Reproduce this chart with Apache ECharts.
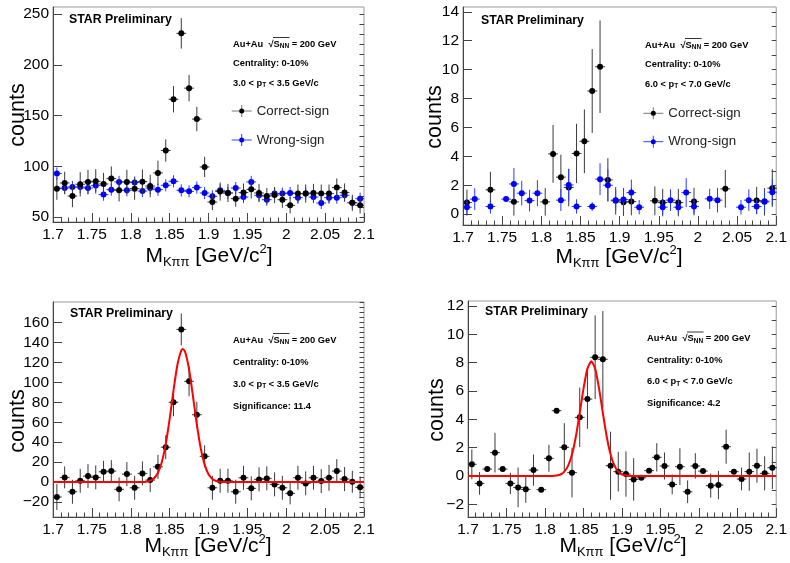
<!DOCTYPE html>
<html><head><meta charset="utf-8">
<script src="https://cdn.jsdelivr.net/npm/echarts@6/dist/echarts.min.js"></script>
<style>html,body{margin:0;padding:0;background:#fff}#c{width:790px;height:563px}</style>
</head><body><div id="c"></div>
<script>
// ---------- data ----------
const binCenters = [1.705,1.715,1.725,1.735,1.745,1.755,1.765,1.775,1.785,1.795,
  1.805,1.815,1.825,1.835,1.845,1.855,1.865,1.875,1.885,1.895,
  1.905,1.915,1.925,1.935,1.945,1.955,1.965,1.975,1.985,1.995,
  2.005,2.015,2.025,2.035,2.045,2.055,2.065,2.075,2.085,2.095];

// Panel 1: 3.0<pT<3.5, correct-sign / wrong-sign
const csVals1 = [77.9,83.5,70.6,82.2,84.5,85.1,82.5,87.8,76.2,84.5,77.9,84.8,80.5,93.4,115.5,166,231,177,146.5,99.3,
  64.7,75,73.6,68,74,77.2,73.6,70.6,71.6,67,61.4,73,73,73.6,73,73,78.9,74,64,61.4];
const csErr1 = [11,11,11,12,12,12,11,12,11,12,11,12,11,12,11,13,15,13,12,10,
  8,9,9,8,9,9,9,8,8,8,8,9,9,9,9,9,9,9,8,8];
const wsVals1 = [92.8,78.5,79.5,79.5,78.5,80.9,72,76.9,84.5,76.2,83.9,75.5,78.5,76.9,81.2,85.1,76.2,75.2,78.9,73.6,
  70.3,76.2,73.6,78.5,69.6,84.5,71.3,67,73,73,73.6,69,73,69.6,63.7,69,69,71.3,64,68];
const wsErr1 = [6,6,6,6,6,6,6,6,6,6,6,6,6,6,6,6,6,6,6,6,
  6,6,6,6,6,6,6,6,6,6,6,6,6,6,6,6,6,6,6,6];

// Panel 2: 6.0<pT<7.0, correct-sign / wrong-sign (null = empty bin)
const csVals2 = [0.8,null,null,1.68,null,null,0.85,null,null,null,0.85,4.17,2.56,1.84,4.2,5.04,8.52,10.2,2.37,0.92,
  0.83,0.87,null,null,0.92,0.8,null,0.8,null,0.87,null,null,null,1.75,null,null,null,0.94,0.85,1.8];
const csErr2 = [0.9,null,null,1.25,null,null,0.95,null,null,null,0.95,2.0,1.55,1.3,2.05,2.2,2.9,3.2,1.5,0.95,
  0.95,0.95,null,null,1.0,0.95,null,0.95,null,0.95,null,null,null,1.3,null,null,null,0.95,0.95,1.3];
const wsVals2 = [0.48,1.04,null,0.53,null,1.04,2.09,1.45,0.94,1.45,null,null,0.97,2.02,0.53,null,0.53,2.42,2.0,0.97,
  1.01,1.49,0.48,null,null,0.48,0.97,0.48,1.49,0.53,null,1.06,0.97,null,null,0.48,0.97,0.53,0.9,1.52];
const wsErr2 = [0.5,0.75,null,0.5,null,0.15,1.1,0.85,0.75,0.9,null,null,0.75,1.1,0.5,null,0.3,1.1,1.1,0.7,
  0.8,0.9,0.5,null,null,0.5,0.75,0.5,1.0,0.5,null,0.7,0.85,null,null,0.5,0.75,0.5,0.75,0.9];

// Panel 3: signal 3.0<pT<3.5
const sigVals3 = [-15,4.7,-9.7,1.3,6,4.7,10.3,11,-7.3,8,-5.7,8.7,2,15.3,35,80,153,101,67.5,25.8,
  -5.7,1.3,1.3,-9.7,4.3,-6.3,2.7,3.7,-2.3,-5.7,-11.3,4.3,-1.3,4.3,1,4.3,11,3,0.3,-5.3];
const sigErr3 = [13,11,12,12,12,12,11,11,12,12,12,12,12,12,12,14,16,15,13,11,
  12,12,12,12,12,12,12,12,12,12,11,12,12,12,12,13,12,12,11,11];
const fitX3 = [1.7,1.815,1.82,1.825,1.83,1.835,1.84,1.845,1.85,1.855,1.86,1.865,1.867,1.87,1.875,1.88,1.885,1.89,1.895,1.9,1.905,1.91,1.915,1.92,2.1];
const fitY3 = [0,0.1,0.4,1.4,3.8,9.4,20.2,38.1,63.1,91.9,117.6,132.1,133.5,130.4,113.1,86.2,57.7,33.9,17.5,7.9,3.2,1.1,0.3,0.1,0];

// Panel 4: signal 6.0<pT<7.0
const sigVals4 = [0.83,-0.52,0.49,1.65,0.49,-0.52,-0.8,-0.94,0.42,-0.96,1.25,4.61,2.03,0.24,4.14,5.43,8.38,8.24,0.73,0.31,
  0.14,-0.24,-0.12,0.38,1.32,0.71,-0.59,0.66,-1.11,0.71,0.35,-0.68,-0.64,2.07,0.31,-0.21,0.31,0.73,0.19,0.59];
const sigErr4 = [1.05,0.8,0.1,1.4,0.1,0.75,1.4,0.95,1.1,0.1,0.95,0.1,1.7,1.75,2.1,2.1,2.95,3.4,2.4,1.4,
  1.6,1.5,0.1,0.1,1.0,0.95,0.7,1.3,0.8,0.9,0.1,0.85,1.0,1.2,0.1,0.8,1.35,1.2,1.2,1.5];
const fitX4 = [1.7,1.81,1.815,1.82,1.825,1.83,1.835,1.84,1.845,1.85,1.855,1.86,1.865,1.87,1.875,1.88,1.885,1.89,1.895,1.9,1.905,1.91,2.1];
const fitY4 = [0,0.01,0.04,0.11,0.31,0.73,1.53,2.79,4.45,6.2,7.58,8.1,7.58,6.2,4.45,2.79,1.53,0.73,0.31,0.11,0.04,0.01,0];

// axes
const xRange = [1.7, 2.1];
const yRange1 = [45, 257], yLabels1 = [50,100,150,200,250];
const yMinor1 = [50,60,70,80,90,100,110,120,130,140,150,160,170,180,190,200,210,220,230,240,250];
const yRange2 = [-0.75, 14.33], yLabels2 = [0,2,4,6,8,10,12,14];
const yMinor2 = [0,1,2,3,4,5,6,7,8,9,10,11,12,13,14];
const yRange3 = [-35, 180.5], yLabels3 = [-20,0,20,40,60,80,100,120,140,160];
const yMinor3 = [-30,-25,-20,-15,-10,-5,0,5,10,15,20,25,30,35,40,45,50,55,60,65,70,75,80,85,90,95,100,105,110,115,120,125,130,135,140,145,150,155,160,165,170,175,180];
const yRange4 = [-2.89, 12.35], yLabels4 = [-2,0,2,4,6,8,10,12];
const yMinor4 = [-2,-1,0,1,2,3,4,5,6,7,8,9,10,11,12];

// texts
const starText = 'STAR Preliminary';
const centText = 'Centrality: 0-10%';
const ptLo = ['3.0','6.0','3.0','6.0'], ptHi = ['3.5','7.0','3.5','7.0'];
const sigText = ['', '', 'Significance: 11.4', 'Significance: 4.2'];
const legendNames = ['Correct-sign', 'Wrong-sign'];

// ---------- layout ----------
const FONT = '"Liberation Sans", Arial, Helvetica, sans-serif';
const grids = [
  {left:53, top:7, width:311, height:215},
  {left:463, top:7, width:314, height:218},
  {left:53, top:302, width:311, height:215},
  {left:468, top:301, width:309, height:216}
];
const yRanges = [yRange1, yRange2, yRange3, yRange4];
const yLabs = [yLabels1, yLabels2, yLabels3, yLabels4];
const yMins = [yMinor1, yMinor2, yMinor3, yMinor4];

function pts(vals, errs) {
  const out = [];
  for (let i = 0; i < binCenters.length; i++) {
    if (vals[i] === null) continue;
    out.push([binCenters[i], vals[i], errs[i]]);
  }
  return out;
}
function errRender(fill, bar) {
  return function (params, api) {
    const x = api.value(0), y = api.value(1), e = api.value(2);
    const c = api.coord([x, y]);
    const t = api.coord([x, y + e]), b = api.coord([x, y - e]);
    const l = api.coord([x - 0.005, y]), r = api.coord([x + 0.005, y]);
    return {type:'group', children:[
      {type:'line', shape:{x1:c[0], y1:t[1], x2:c[0], y2:b[1]}, style:{stroke:bar, lineWidth:1}},
      {type:'line', shape:{x1:l[0]-1, y1:c[1], x2:r[0]+1, y2:c[1]}, style:{stroke:bar, lineWidth:1}},
      {type:'circle', shape:{cx:c[0], cy:c[1], r:3}, style:{fill:fill}}
    ]};
  };
}
function fitData(xs, ys) { return xs.map((x, i) => [x, ys[i]]); }

const xAxes = [], yAxes = [];
grids.forEach((g, i) => {
  xAxes.push({gridIndex:i, type:'value', min:xRange[0], max:xRange[1], interval:0.05,
    axisLine:{onZero:false, lineStyle:{color:'#444', width:1}},
    axisTick:{inside:true, length:9, lineStyle:{color:'#444'}},
    minorTick:{show:true, splitNumber:5, length:4.5, lineStyle:{color:'#444'}},
    axisLabel:{margin:5, fontSize:15.5, color:'#000', fontFamily:FONT},
    splitLine:{show:false}});
  yAxes.push({gridIndex:i, type:'value', min:yRanges[i][0], max:yRanges[i][1],
    axisLine:{show:true, onZero:false, lineStyle:{color:'#444', width:1}},
    axisTick:{inside:true, length:9, customValues:yLabs[i], lineStyle:{color:'#444'}},
    axisLabel:{customValues:yLabs[i], margin:4, fontSize:15.5, color:'#000', fontFamily:FONT,
      formatter: v => String(v).replace('-', '\u2212')},
    splitLine:{show:false}});
});
grids.forEach((g, i) => {
  yAxes.push({gridIndex:i, type:'value', min:yRanges[i][0], max:yRanges[i][1],
    axisLine:{show:false, onZero:false},
    axisTick:{inside:true, length:4.5, customValues:yMins[i], lineStyle:{color:'#444'}},
    axisLabel:{show:false}, splitLine:{show:false}});
});

const BAR_K = '#3a3a3a', BAR_B = '#2a3cff';
const series = [
  {type:'custom', xAxisIndex:0, yAxisIndex:0, clip:true, renderItem:errRender('#0000ff', BAR_B), data:pts(wsVals1, wsErr1)},
  {type:'custom', xAxisIndex:0, yAxisIndex:0, clip:true, renderItem:errRender('#000', BAR_K), data:pts(csVals1, csErr1)},
  {type:'custom', xAxisIndex:1, yAxisIndex:1, clip:true, renderItem:errRender('#000', BAR_K), data:pts(csVals2, csErr2)},
  {type:'custom', xAxisIndex:1, yAxisIndex:1, clip:true, renderItem:errRender('#0000ff', BAR_B), data:pts(wsVals2, wsErr2)},
  {type:'custom', xAxisIndex:2, yAxisIndex:2, clip:true, renderItem:errRender('#000', BAR_K), data:pts(sigVals3, sigErr3)},
  {type:'line', xAxisIndex:2, yAxisIndex:2, data:fitData(fitX3, fitY3), showSymbol:false, smooth:0.2,
    lineStyle:{color:'#ff0000', width:2}, clip:true, z:5},
  {type:'custom', xAxisIndex:3, yAxisIndex:3, clip:true, renderItem:errRender('#000', BAR_K), data:pts(sigVals4, sigErr4)},
  {type:'line', xAxisIndex:3, yAxisIndex:3, data:fitData(fitX4, fitY4), showSymbol:false, smooth:0.2,
    lineStyle:{color:'#ff0000', width:2}, clip:true, z:5}
];

// ---------- annotations ----------
const mctx = document.createElement('canvas').getContext('2d');
function tw(str, size, bold) { mctx.font = (bold ? 'bold ' : '') + size + 'px ' + FONT; return mctx.measureText(str).width; }

const graphic = [];
function txt(x, y, text, size, opts) {
  graphic.push(Object.assign({type:'text', x:x, y:y, z:100,
    style:Object.assign({text:text, fontSize:size, fontFamily:FONT, fill:'#000', verticalAlign:'middle', align:'left'}, (opts && opts.style) || {})},
    (opts && opts.el) || {}));
}
const starPos = [[69,19.5],[481,21],[70,314],[485,312]];
const infoPos = [[233,44],[645,45],[233,340],[647,338.5]];
const infoGap = [19.5, 19.5, 22, 21.5];
const ytitlePos = [[18,115],[435,117],[18,421],[437,410]];
const xtitlePos = [[209,256],[619,257],[208,546],[623,546]];

for (let i = 0; i < 4; i++) {
  txt(starPos[i][0], starPos[i][1], starText, 12.3, {style:{fontWeight:'bold'}});
  const [ix, iy] = infoPos[i];
  const fs = 9.3;
  // Au+Au sqrt(s_NN) line
  const pre = 'Au+Au  \u221A';
  graphic.push({type:'text', x:ix, y:iy, z:100, style:{
    text:'{b|' + pre + 'S}{n|NN}{b| = 200 GeV}',
    rich:{b:{fontSize:fs, fontWeight:'bold', fontFamily:FONT, lineHeight:12, fill:'#000'},
          n:{fontSize:6.5, fontWeight:'bold', fontFamily:FONT, lineHeight:7, verticalAlign:'bottom', fill:'#000'}},
    verticalAlign:'middle', align:'left'}});
  const ox = ix + tw(pre, fs, true);
  const ow = tw('S', fs, true) + tw('NN', 6.5, true);
  graphic.push({type:'line', z:100, shape:{x1:ox - 0.5, y1:iy - 6.5, x2:ox + ow + 0.5, y2:iy - 6.5}, style:{stroke:'#000', lineWidth:0.8}});
  txt(ix, iy + infoGap[i], centText, fs, {style:{fontWeight:'bold'}});
  graphic.push({type:'text', x:ix, y:iy + 2*infoGap[i], z:100, style:{
    text:'{b|' + ptLo[i] + ' < p}{n|T}{b| < ' + ptHi[i] + ' GeV/c}',
    rich:{b:{fontSize:fs, fontWeight:'bold', fontFamily:FONT, lineHeight:12, fill:'#000'},
          n:{fontSize:6.5, fontWeight:'bold', fontFamily:FONT, lineHeight:7, verticalAlign:'bottom', fill:'#000'}},
    verticalAlign:'middle', align:'left'}});
  if (sigText[i]) txt(ix, iy + 3*infoGap[i], sigText[i], fs, {style:{fontWeight:'bold'}});

  // axis titles
  txt(ytitlePos[i][0], ytitlePos[i][1], 'counts', 21.5, {style:{align:'center'}, el:{rotation:Math.PI/2}});
  graphic.push({type:'text', x:xtitlePos[i][0], y:xtitlePos[i][1], z:100, style:{
    text:'{m|M}{s|K\u03C0\u03C0}{m| [GeV/c}{p|2}{m|]}',
    rich:{m:{fontSize:21, fontFamily:FONT, lineHeight:26, fill:'#000'},
          s:{fontSize:13, fontFamily:FONT, lineHeight:11, verticalAlign:'bottom', fill:'#000'},
          p:{fontSize:13, fontFamily:FONT, lineHeight:13, verticalAlign:'top', fill:'#000'}},
    align:'center', verticalAlign:'middle'}});
}

// legends for top panels
const legPos = [[241.7,111,140],[653.3,113.3,141.7]];
legPos.forEach(([lx, y1, y2]) => {
  [[y1, '#777', '#000', legendNames[0]], [y2, '#3344ff', '#0000ff', legendNames[1]]].forEach(([ly, lc, mc, name]) => {
    graphic.push({type:'line', z:100, shape:{x1:lx-10, y1:ly, x2:lx+10, y2:ly}, style:{stroke:lc, lineWidth:1}});
    graphic.push({type:'line', z:100, shape:{x1:lx, y1:ly-6, x2:lx, y2:ly+6}, style:{stroke:lc, lineWidth:1}});
    graphic.push({type:'circle', z:100, shape:{cx:lx, cy:ly, r:2.5}, style:{fill:mc}});
    txt(lx + 15, ly, name, 13.3, {style:{fill:'#222'}});
  });
});

const chart = echarts.init(document.getElementById('c'), null, {renderer:'canvas'});
chart.setOption({
  animation:false,
  backgroundColor:'#fff',
  grid: grids.map(g => Object.assign({show:true, borderColor:'#9a9a9a', borderWidth:1, backgroundColor:'transparent'}, g)),
  xAxis: xAxes,
  yAxis: yAxes,
  series: series,
  graphic: graphic
});
</script></body></html>
